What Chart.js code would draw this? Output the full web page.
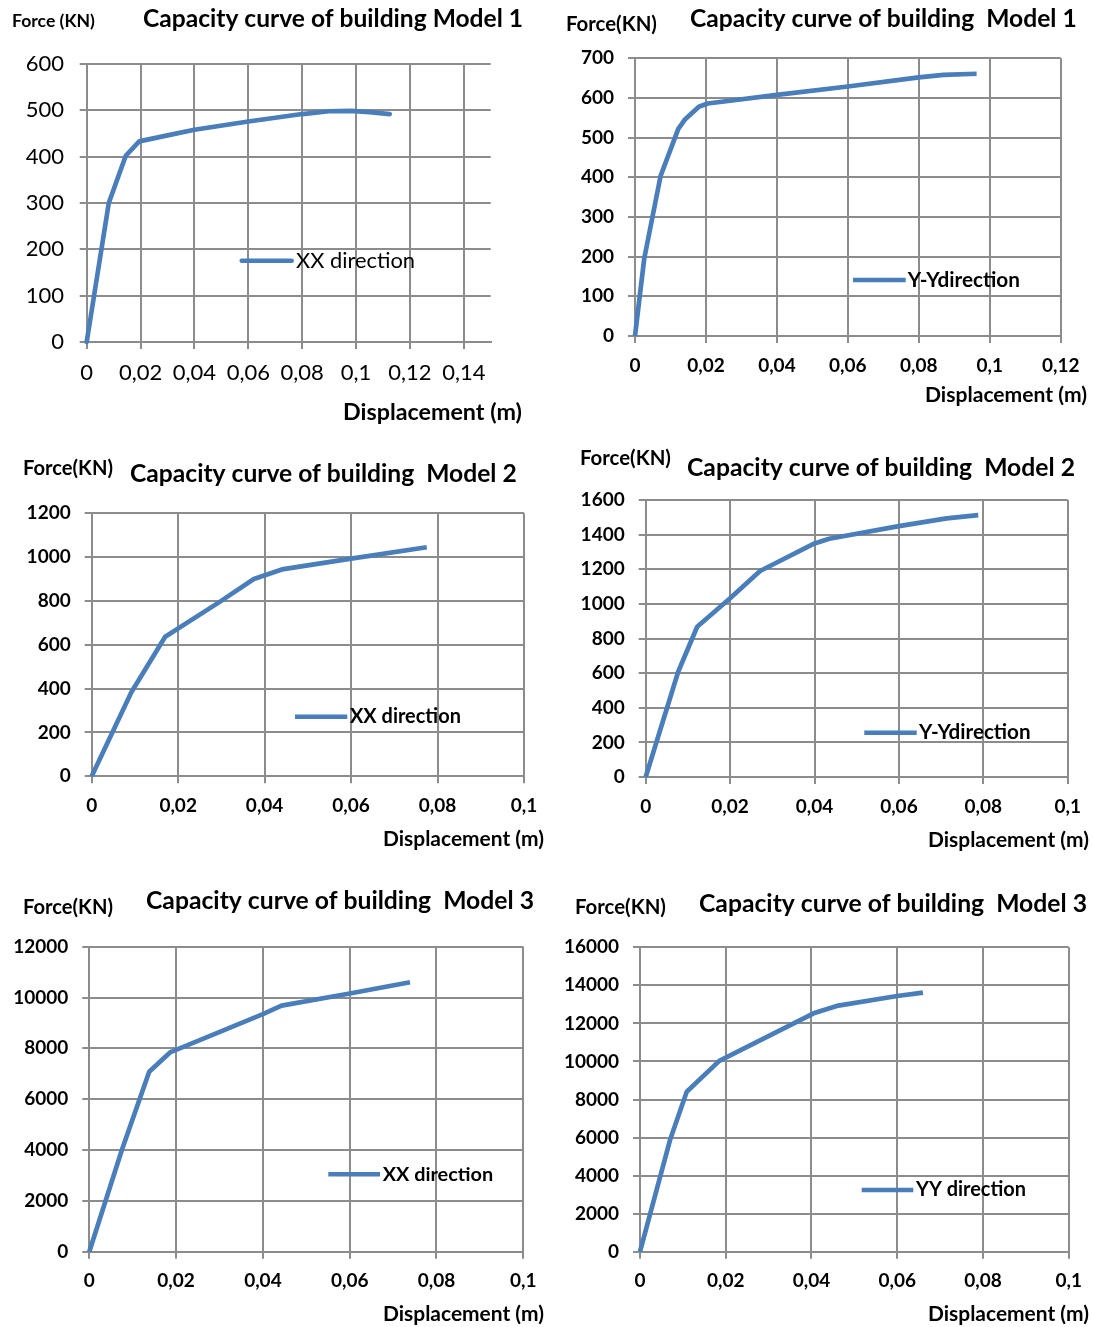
<!DOCTYPE html>
<html>
<head>
<meta charset="utf-8">
<script src="https://cdn.jsdelivr.net/npm/chart.js@4"></script>
<style>
body { margin: 0; background: #fff; }
#wrap { position: relative; width: 1093px; height: 1327px; }
#wrap canvas { position: absolute; left: 0; top: 0; }
</style>
</head>
<body>
<div id="wrap">
<canvas id="c1" width="1093" height="1327"></canvas>
<canvas id="c2" width="1093" height="1327"></canvas>
<canvas id="c3" width="1093" height="1327"></canvas>
<canvas id="c4" width="1093" height="1327"></canvas>
<canvas id="c5" width="1093" height="1327"></canvas>
<canvas id="c6" width="1093" height="1327"></canvas>
</div>
<script>
// 데이터
var m1xDisp  = [0, 0.0082, 0.0145, 0.0195, 0.03, 0.04, 0.06, 0.08, 0.09, 0.098, 0.105, 0.1125];
var m1xForce = [0, 300, 402, 433, 446, 458, 476, 492, 498, 499, 496, 492];

var m1yDisp  = [0, 0.0026, 0.0072, 0.0122, 0.014, 0.018, 0.0205, 0.04, 0.06, 0.08, 0.087, 0.0963];
var m1yForce = [0, 195, 403, 522, 545, 578, 586, 608, 629, 652, 658, 661];

var m2xDisp  = [0, 0.0092, 0.017, 0.0297, 0.0375, 0.044, 0.06, 0.0775];
var m2xForce = [0, 385, 637, 797, 900, 944, 993, 1045];

var m2yDisp  = [0, 0.0077, 0.0122, 0.02, 0.0271, 0.04, 0.0435, 0.06, 0.0713, 0.0788];
var m2yForce = [0, 608, 868, 1032, 1190, 1349, 1376, 1449, 1494, 1513];

var m3xDisp  = [0, 0.0075, 0.0138, 0.0186, 0.04, 0.0443, 0.06, 0.0739];
var m3xForce = [0, 4000, 7080, 7840, 9350, 9680, 10160, 10600];

var m3yDisp  = [0, 0.007, 0.0109, 0.0185, 0.0405, 0.0459, 0.06, 0.066];
var m3yForce = [0, 5870, 8410, 10030, 12530, 12920, 13440, 13620];

var BLUE = '#4a7ebb';
var GRID = '#8c8c8c';

// 패널 배치 (페이지 좌표)
var panels = [
    { id: 'c1', disp: m1xDisp, force: m1xForce, xMax: 0.15, yMax: 600, yStep: 100,
      area: [86.7, 64, 490.7, 342], bold: false, tickSize: 22, yPad: 15.7, xPad: 11, cap: 'round',
      force_t: ['Force (KN)', 12, 95, 21],
      title: ['Capacity curve of building Model 1', 143, 523, 19],
      disp_t: ['Displacement (m)', 343, 522, 412],
      legend: [241.7, 291.7, 260.7, 'XX direction', 296, 415] },
    { id: 'c2', disp: m1yDisp, force: m1yForce, xMax: 0.12, yMax: 700, yStep: 100,
      area: [635, 58.3, 1060.7, 336], bold: true, tickSize: 19, yPad: 14, xPad: 11.5, cap: 'butt',
      force_t: ['Force(KN)', 566, 657, 24],
      title: ['Capacity curve of building  Model 1', 690, 1077, 19],
      disp_t: ['Displacement (m)', 925, 1087, 395],
      legend: [853, 905.7, 280, 'Y-Ydirection', 907.7, 1020] },
    { id: 'c3', disp: m2xDisp, force: m2xForce, xMax: 0.1, yMax: 1200, yStep: 200,
      area: [91.7, 513.3, 524, 776.3], bold: true, tickSize: 19, yPad: 14, xPad: 11, cap: 'butt',
      force_t: ['Force(KN)', 23, 113, 468],
      title: ['Capacity curve of building  Model 2', 130, 517, 474],
      disp_t: ['Displacement (m)', 383, 544, 839],
      legend: [295, 347.3, 716.7, 'XX direction', 350, 461] },
    { id: 'c4', disp: m2yDisp, force: m2yForce, xMax: 0.1, yMax: 1600, yStep: 200,
      area: [645.7, 500, 1067.7, 777], bold: true, tickSize: 19, yPad: 14, xPad: 11, cap: 'butt',
      force_t: ['Force(KN)', 580, 671, 458],
      title: ['Capacity curve of building  Model 2', 687, 1075, 468],
      disp_t: ['Displacement (m)', 928, 1089, 840],
      legend: [864.3, 916.7, 732.7, 'Y-Ydirection', 919, 1030.7] },
    { id: 'c5', disp: m3xDisp, force: m3xForce, xMax: 0.1, yMax: 12000, yStep: 2000,
      area: [89.3, 946.7, 523.3, 1251.7], bold: true, tickSize: 19, yPad: 14, xPad: 10.6, cap: 'butt',
      force_t: ['Force(KN)', 23, 113, 907],
      title: ['Capacity curve of building  Model 3', 146, 534, 901],
      disp_t: ['Displacement (m)', 383, 544, 1314],
      legend: [328.3, 380, 1174.3, 'XX direction', 382.7, 493.3] },
    { id: 'c6', disp: m3yDisp, force: m3yForce, xMax: 0.1, yMax: 16000, yStep: 2000,
      area: [640, 947.3, 1068.7, 1251.7], bold: true, tickSize: 19, yPad: 14, xPad: 10.6, cap: 'butt',
      force_t: ['Force(KN)', 575, 666, 907],
      title: ['Capacity curve of building  Model 3', 699, 1087, 904],
      disp_t: ['Displacement (m)', 928, 1089, 1314],
      legend: [861.7, 913.3, 1190, 'YY direction', 916, 1026] }
];

// 폭에 맞춰 글자 크기 정하고 그리기
function fitText(ctx, text, weight, x1, x2, y)
{
    ctx.font = weight + ' 100px Lato';
    var size = 100 * (x2 - x1) / ctx.measureText(text).width;
    ctx.font = weight + ' ' + size.toFixed(2) + 'px Lato';
    ctx.textAlign = 'left';
    ctx.textBaseline = 'middle';
    ctx.fillStyle = '#000';
    ctx.fillText(text, x1, y);
}

var textPlugin = {
    id: 'paneltext',
    afterDraw: function(chart) {
        var p = chart.options.plugins.paneltext.p;
        var ctx = chart.ctx;
        ctx.save();
        fitText(ctx, p.force_t[0], 'bold', p.force_t[1], p.force_t[2], p.force_t[3]);
        fitText(ctx, p.title[0], 'bold', p.title[1], p.title[2], p.title[3]);
        fitText(ctx, p.disp_t[0], 'bold', p.disp_t[1], p.disp_t[2], p.disp_t[3]);
        // 범례
        var lg = p.legend;
        ctx.strokeStyle = BLUE;
        ctx.lineWidth = 4.5;
        ctx.lineCap = p.cap;
        ctx.beginPath();
        ctx.moveTo(lg[0], lg[2]);
        ctx.lineTo(lg[1], lg[2]);
        ctx.stroke();
        fitText(ctx, lg[3], p.bold ? 'bold' : 'normal', lg[4], lg[5], lg[2]);
        ctx.restore();
    }
};

function mkchart(p)
{
    var W = 1093, H = 1327, yW = 84, xH = 42;
    var pts = p.disp.map(function(d, i) { return { x: d, y: p.force[i] }; });
    var tickFont = { family: 'Lato', size: p.tickSize, weight: p.bold ? 'bold' : 'normal' };

    return new Chart(document.getElementById(p.id), {
        type: 'line',
        data: {
            datasets: [{
                data: pts,
                borderColor: BLUE,
                borderWidth: 4.7,
                borderCapStyle: p.cap,
                borderJoinStyle: 'round',
                pointRadius: 0,
                tension: 0,
                clip: 8
            }]
        },
        options: {
            responsive: false,
            animation: false,
            layout: {
                padding: { left: p.area[0] - yW, top: p.area[1], right: W - p.area[2], bottom: H - p.area[3] - xH }
            },
            scales: {
                x: {
                    type: 'linear',
                    min: 0,
                    max: p.xMax,
                    afterFit: function(s) { s.height = xH; },
                    afterBuildTicks: function(s) {
                        s.ticks = s.ticks.filter(function(t) {
                            return Math.abs(t.value / 0.02 - Math.round(t.value / 0.02)) < 1e-6;
                        });
                    },
                    grid: { color: GRID, lineWidth: 2, tickLength: 7, tickColor: GRID },
                    border: { color: GRID, width: 2 },
                    ticks: {
                        stepSize: 0.02,
                        includeBounds: false,
                        autoSkip: false,
                        maxRotation: 0,
                        padding: p.xPad,
                        color: '#000',
                        font: tickFont,
                        callback: function(v) { return String(Math.round(v * 100) / 100).replace('.', ','); }
                    }
                },
                y: {
                    min: 0,
                    max: p.yMax,
                    afterFit: function(s) { s.width = yW; },
                    grid: { color: GRID, lineWidth: 2, tickLength: 7, tickColor: GRID },
                    border: { color: GRID, width: 2 },
                    ticks: {
                        stepSize: p.yStep,
                        padding: p.yPad,
                        color: '#000',
                        font: tickFont,
                        callback: function(v) { return String(v); }
                    }
                }
            },
            plugins: {
                legend: { display: false },
                title: { display: false },
                tooltip: { enabled: false },
                paneltext: { p: p }
            }
        },
        plugins: [textPlugin]
    });
}

window.onload = function()
{
    for (var i = 0; i < panels.length; i++) {
        mkchart(panels[i]);
    }
};
</script>
</body>
</html>
